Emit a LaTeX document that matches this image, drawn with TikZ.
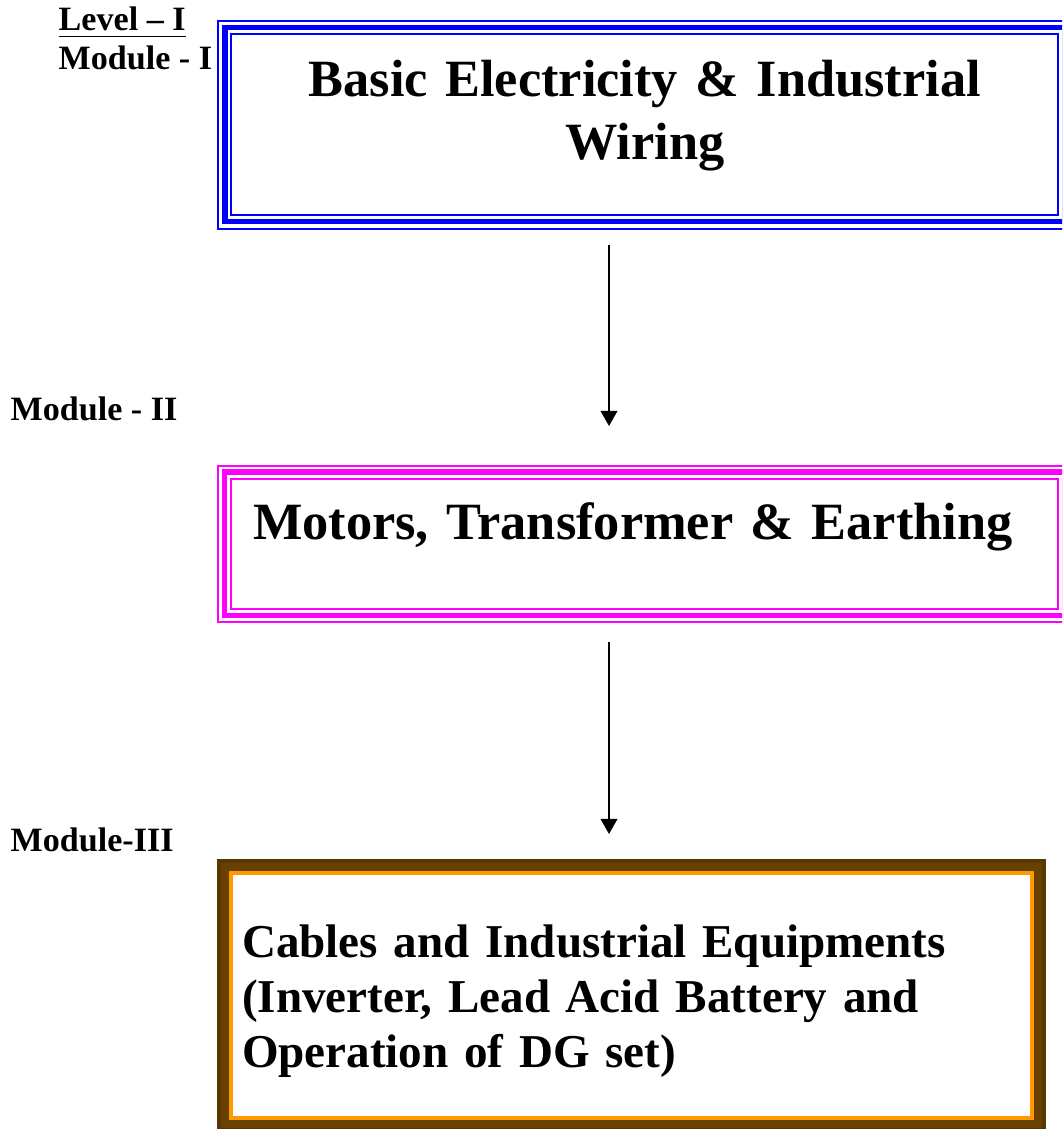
\documentclass[tikz,border=0pt]{standalone}
\usepackage{fontspec}
\setmainfont{Liberation Serif}
\usepackage{xcolor}
\usepackage{tikz}
\usetikzlibrary{arrows.meta, positioning}
\definecolor{myblue}{RGB}{0,0,255}
\definecolor{mypink}{RGB}{255,0,255}
\definecolor{mybrown}{RGB}{104,65,0}
\definecolor{mydarkbrown}{RGB}{88,56,0}
\definecolor{myorange}{RGB}{255,153,0}
\tikzset{
  box/.style={rectangle, outer sep=0pt, inner ysep=0pt, text height=10pt,
    font=\fontsize{14.9}{17.9}\selectfont\bfseries},
  bluebox/.style={box, draw=myblue, line width=0.57pt, text width=8.27cm,
    inner xsep=0pt, align=center, minimum width=8.27cm, minimum height=1.81cm,
    text depth=25.5pt},
  pinkbox/.style={box, draw=mypink, line width=0.57pt, text width=7.83cm,
    inner xsep=0.22cm, align=left, minimum width=8.27cm, minimum height=1.30cm,
    text depth=12pt},
  orangebox/.style={box, draw=myorange, line width=1.14pt, text width=7.79cm,
    inner xsep=0.11cm, align=left, minimum width=8.01cm, minimum height=2.45cm,
    text depth=31.9pt, font=\fontsize{13.4}{15.65}\selectfont\bfseries},
  thickblue/.style={draw=myblue, line width=1.56pt},
  thinblue/.style={draw=myblue, line width=0.57pt},
  thickpink/.style={draw=mypink, line width=1.56pt},
  thinpink/.style={draw=mypink, line width=0.57pt},
  brownband/.style={draw=mybrown, line width=2.28pt},
  darkband/.style={draw=mydarkbrown, line width=1.14pt},
  modlabel/.style={anchor=base west, inner sep=0pt,
    font=\fontsize{9.7}{11}\selectfont\bfseries},
  arrow/.style={-{Triangle[length=4.3pt, width=4.7pt]}, line width=0.65pt, color=black}
}
\begin{document}
\begin{tikzpicture}
  \useasboundingbox (0,0) rectangle (10.62,-11.29);
  \clip (0,0) rectangle (10.62,-11.29);

  % Level and module labels
  \node[modlabel] (lvl) at (0.58,-0.31) {\underline{Level -- I}};
  \node[modlabel] (mod1) at (0.58,-0.70) {Module - I};
  \node[modlabel] (mod2) at (0.10,-4.20) {Module - II};
  \node[modlabel] (mod3) at (0.10,-8.51) {Module-III};

  % Module I box
  \node[bluebox] (m1) at (6.4475,-1.242) {Basic Electricity \& Industrial\\Wiring};
  \draw[thickblue] ([shift={(-0.063,0.064)}]m1.north west) rectangle ([shift={(0.063,-0.068)}]m1.south east);
  \draw[thinblue] ([shift={(-0.13,0.127)}]m1.north west) rectangle ([shift={(0.13,-0.14)}]m1.south east);

  % Module II box
  \node[pinkbox] (m2) at (6.445,-5.435) {Motors, Transformer \& Earthing};
  \draw[thickpink] ([shift={(-0.063,0.064)}]m2.north west) rectangle ([shift={(0.063,-0.068)}]m2.south east);
  \draw[thinpink] ([shift={(-0.13,0.13)}]m2.north west) rectangle ([shift={(0.13,-0.137)}]m2.south east);

  % Module III box
  \node[orangebox] (m3) at (6.315,-9.955) {Cables and Industrial Equipments\\(Inverter, Lead Acid Battery and\\Operation of DG set)};
  \draw[brownband] ([shift={(-0.06,0.06)}]m3.north west) rectangle ([shift={(0.06,-0.06)}]m3.south east);
  \draw[darkband] ([shift={(-0.12,0.12)}]m3.north west) rectangle ([shift={(0.12,-0.12)}]m3.south east);

  % Arrows between modules
  \coordinate (a1top) at (6.09,-2.45);
  \coordinate (a1tip) at (6.09,-4.26);
  \coordinate (a2top) at (6.09,-6.42);
  \coordinate (a2tip) at (6.09,-8.34);
  \draw[arrow] (a1top) -- (a1tip);
  \draw[arrow] (a2top) -- (a2tip);
\end{tikzpicture}
\end{document}
